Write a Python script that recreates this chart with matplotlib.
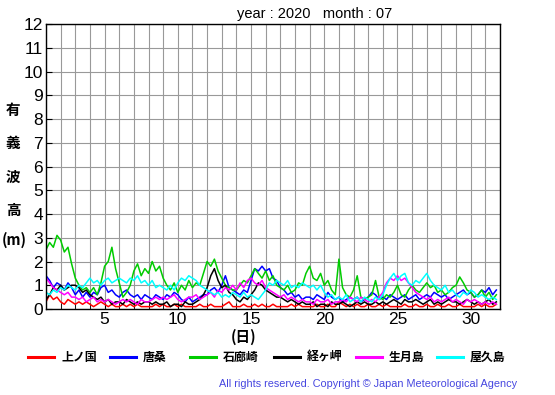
import numpy as np
import matplotlib.pyplot as plt
from matplotlib.lines import Line2D

plt.rcParams['font.family'] = ['Liberation Sans', 'Noto Sans CJK JP', 'DejaVu Sans']

# significant wave height (m), 4 readings per day, July 2020
kaminokuni = [0.3, 0.6, 0.4, 0.5, 0.3, 0.2, 0.4, 0.3, 0.2, 0.3, 0.2, 0.3, 0.2, 0.1, 0.2, 0.3,
              0.2, 0.1, 0.2, 0.1, 0.1, 0.2, 0.1, 0.2, 0.1, 0.2, 0.1, 0.1, 0.1, 0.1, 0.2, 0.1,
              0.2, 0.1, 0.1, 0.2, 0.1, 0.2, 0.1, 0.1, 0.1, 0.1, 0.2, 0.1, 0.1, 0.2, 0.1, 0.1,
              0.1, 0.2, 0.3, 0.1, 0.1, 0.1, 0.2, 0.1, 0.1, 0.2, 0.1, 0.2, 0.1, 0.1, 0.2, 0.1,
              0.1, 0.1, 0.1, 0.2, 0.1, 0.2, 0.1, 0.1, 0.1, 0.1, 0.2, 0.1, 0.1, 0.2, 0.1, 0.1,
              0.3, 0.2, 0.1, 0.2, 0.1, 0.2, 0.1, 0.1, 0.2, 0.1, 0.1, 0.2, 0.1, 0.2, 0.1, 0.1,
              0.1, 0.1, 0.2, 0.1, 0.1, 0.2, 0.1, 0.1, 0.2, 0.1, 0.1, 0.2, 0.1, 0.1, 0.2, 0.1,
              0.1, 0.2, 0.1, 0.1, 0.1, 0.1, 0.2, 0.1, 0.2, 0.1, 0.1, 0.2]
karakuwa = [1.4, 1.2, 0.9, 1.1, 1.0, 0.8, 1.1, 0.9, 0.6, 0.8, 0.5, 0.7, 0.5, 0.7, 0.6, 0.9,
            1.0, 0.7, 0.8, 0.6, 0.5, 0.7, 0.8, 0.6, 0.5, 0.6, 0.4, 0.6, 0.5, 0.4, 0.6, 0.5,
            0.4, 0.6, 0.5, 0.7, 0.6, 0.4, 0.3, 0.5, 0.3, 0.4, 0.5, 0.6, 0.6, 0.8, 0.9, 0.7,
            1.0, 1.4, 0.9, 0.8, 0.7, 0.6, 0.8, 0.7, 1.2, 1.7, 1.6, 1.8, 1.6, 1.7, 1.3, 1.2,
            0.9, 0.8, 0.6, 0.7, 0.5, 0.6, 0.4, 0.5, 0.5, 0.4, 0.6, 0.5, 0.4, 0.7, 0.5, 0.4,
            0.5, 0.3, 0.4, 0.5, 0.4, 0.5, 0.3, 0.4, 0.5, 0.7, 0.6, 0.4, 0.5, 0.4, 0.6, 0.5,
            0.4, 0.5, 0.6, 0.4, 0.5, 0.6, 0.4, 0.5, 0.6, 0.5, 0.7, 0.6, 0.5, 0.6, 0.4, 0.5,
            0.6, 0.7, 0.8, 0.6, 0.7, 0.5, 0.6, 0.8, 0.7, 0.9, 0.6, 0.8]
irozaki = [2.5, 2.8, 2.6, 3.1, 2.9, 2.4, 2.6, 1.9, 1.3, 1.0, 0.8, 0.9, 0.7, 0.9, 0.6, 1.1,
           1.8, 2.0, 2.6, 1.7, 1.1, 0.5, 0.7, 1.0, 1.6, 1.9, 1.4, 1.7, 1.5, 2.0, 1.6, 1.8,
           1.3, 1.0, 0.8, 1.1, 0.7, 1.0, 0.8, 1.2, 0.9, 1.1, 1.0, 1.5, 2.0, 1.8, 2.1, 1.6,
           1.3, 1.0, 0.9, 0.8, 0.8, 1.0, 1.2, 1.1, 1.4, 1.7, 1.5, 1.3, 1.6, 1.2, 1.4, 1.0,
           0.9, 0.8, 1.0, 0.7, 0.8, 1.1, 1.0, 1.5, 1.8, 1.3, 1.2, 1.5, 1.0, 1.2, 0.8, 0.6,
           2.1, 0.9, 0.6, 0.5, 0.8, 1.4, 0.5, 0.4, 0.5, 0.6, 1.2, 0.5, 0.4, 0.6, 0.5, 0.7,
           1.0, 0.6, 0.5, 0.8, 1.0, 0.8, 0.7, 0.9, 1.1, 0.9, 1.0, 0.7, 0.8, 0.6, 0.7, 0.9,
           1.0, 1.35, 1.1, 0.8, 0.7, 0.5, 0.6, 0.8, 0.5, 0.7, 0.4, 0.6]
kyogamisaki = [0.4, 0.6, 0.9, 0.8, 1.0, 0.8, 0.9, 1.0, 1.0, 0.9, 0.7, 0.8, 0.6, 0.5, 0.4, 0.5,
               0.3, 0.4, 0.2, 0.3, 0.3, 0.2, 0.4, 0.3, 0.2, 0.3, 0.2, 0.3, 0.3, 0.2, 0.3, 0.2,
               0.2, 0.3, 0.1, 0.2, 0.2, 0.1, 0.3, 0.2, 0.2, 0.3, 0.4, 0.6, 0.9, 1.4, 1.7, 1.2,
               0.9, 1.0, 0.7, 0.6, 0.4, 0.3, 0.5, 0.4, 0.6, 0.8, 1.1, 1.0, 0.8, 0.7, 0.6, 0.5,
               0.5, 0.4, 0.3, 0.4, 0.3, 0.2, 0.3, 0.2, 0.2, 0.3, 0.1, 0.2, 0.2, 0.1, 0.3, 0.2,
               0.2, 0.3, 0.2, 0.1, 0.2, 0.3, 0.2, 0.3, 0.2, 0.2, 0.3, 0.2, 0.3, 0.2, 0.3, 0.4,
               0.3, 0.2, 0.4, 0.3, 0.3, 0.4, 0.3, 0.2, 0.3, 0.4, 0.2, 0.3, 0.2, 0.3, 0.4, 0.3,
               0.3, 0.2, 0.3, 0.4, 0.3, 0.2, 0.3, 0.2, 0.3, 0.4, 0.2, 0.3]
ikitsukishima = [1.3, 1.1, 0.9, 0.8, 0.7, 0.6, 0.7, 0.5, 0.5, 0.4, 0.5, 0.3, 0.4, 0.5, 0.3, 0.4,
                 0.3, 0.4, 0.3, 0.2, 0.3, 0.4, 0.3, 0.4, 0.3, 0.2, 0.4, 0.3, 0.3, 0.4, 0.5, 0.4,
                 0.5, 0.4, 0.5, 0.6, 0.4, 0.3, 0.4, 0.5, 0.5, 0.6, 0.4, 0.5, 0.6, 0.7, 0.5, 0.8,
                 0.7, 0.9, 0.8, 1.0, 0.8, 1.1, 0.9, 1.2, 1.3, 1.1, 1.0, 1.2, 0.9, 0.8, 0.7, 0.6,
                 0.5, 0.6, 0.4, 0.5, 0.4, 0.3, 0.4, 0.3, 0.3, 0.2, 0.4, 0.3, 0.3, 0.4, 0.2, 0.3,
                 0.3, 0.4, 0.3, 0.5, 0.4, 0.3, 0.5, 0.4, 0.3, 0.4, 0.3, 0.5, 0.7, 1.1, 1.3, 1.2,
                 1.4, 1.2, 1.3, 1.1, 0.9, 0.7, 0.6, 0.5, 0.4, 0.5, 0.3, 0.4, 0.3, 0.4, 0.5, 0.3,
                 0.4, 0.3, 0.2, 0.4, 0.3, 0.4, 0.3, 0.2, 0.3, 0.2, 0.3, 0.2]
yakushima = [0.7, 0.6, 0.8, 0.7, 0.9, 0.8, 1.0, 0.9, 0.8, 1.0, 0.9, 1.1, 1.3, 1.1, 1.2, 1.0,
             1.2, 1.3, 1.1, 1.2, 1.3, 1.2, 1.1, 1.3, 1.2, 1.4, 1.1, 1.2, 1.0, 1.2, 0.9, 1.0,
             0.9, 0.8, 1.0, 0.8, 1.1, 1.3, 1.2, 1.4, 1.3, 1.2, 1.0, 0.9, 0.8, 0.7, 0.6, 0.7,
             0.5, 0.6, 0.5, 0.7, 0.6, 0.5, 0.7, 0.5, 0.6, 0.5, 0.4, 0.6, 0.8, 1.1, 1.0, 1.2,
             1.1, 1.0, 1.2, 0.9, 1.0, 0.9, 1.1, 1.0, 0.9, 1.0, 0.8, 1.0, 0.7, 0.5, 0.6, 0.4,
             0.5, 0.4, 0.6, 0.3, 0.4, 0.5, 0.3, 0.5, 0.4, 0.3, 0.5, 0.4, 0.6, 1.0, 1.3, 1.5,
             1.2, 1.4, 1.5, 1.1, 1.0, 1.2, 1.1, 1.3, 1.5, 1.2, 1.0, 0.9, 0.8, 1.0, 0.7, 0.8,
             0.6, 0.5, 0.7, 0.6, 0.8, 0.7, 0.5, 0.6, 0.5, 0.4, 0.5, 0.4]

stations = ['上ノ国', '唐桑', '石廊崎', '経ヶ岬', '生月島', '屋久島']
series = [kaminokuni, karakuwa, irozaki, kyogamisaki, ikitsukishima, yakushima]
colors = ['#ff0000', '#0000ff', '#00cc00', '#000000', '#ff00ff', '#00ffff']

days = 1 + np.arange(len(irozaki)) / 4

fig = plt.figure(figsize=(5.55, 3.95), dpi=100)
ax = fig.add_axes([46 / 555, 86 / 395, 454 / 555, 285 / 395])

for vals, c in zip(series, colors):
    ax.plot(days, vals, color=c, lw=1.1)

ax.set_xlim(1, 32)
ax.set_ylim(0, 12)
ax.set_xticks(range(5, 31, 5))
ax.set_xticks(range(1, 33), minor=True)
ax.set_yticks(range(0, 13))
ax.grid(True, which='both', color='#999999', lw=0.8)
ax.set_axisbelow(True)
ax.tick_params(which='both', direction='in', length=4, labelsize=12.5, pad=2)
for s in ax.spines.values():
    s.set_linewidth(1.0)

fig.text(315 / 555, 1 - 14 / 395, 'year : 2020   month : 07', ha='center', va='center', fontsize=10.5)

cjk = ['Noto Sans CJK JP', 'DejaVu Sans']
for ch, y in zip(['有', '義', '波', '高'], [110, 143, 177, 210]):
    fig.text(13 / 555, 1 - y / 395, ch, ha='center', va='center', fontsize=10.5,
             family=cjk, fontweight='bold')
fig.text(2 / 555, 1 - 240 / 395, '(m)', ha='left', va='center', fontsize=10.5,
         family=cjk, fontweight='bold')
fig.text(244 / 555, 1 - 337 / 395, '(日)', ha='center', va='center', fontsize=10.5,
         family=cjk, fontweight='bold')

# legend row under the axes
line_x = [28, 110, 190, 274, 356, 437]
for name, c, x0 in zip(stations, colors, line_x):
    fig.add_artist(Line2D([x0 / 555, (x0 + 26) / 555], [1 - 357 / 395] * 2, color=c, lw=2.2))
    fig.text((x0 + 33) / 555, 1 - 357 / 395, name, ha='left', va='center', fontsize=8.6,
             family=cjk, fontweight='bold')

fig.text(517 / 555, 1 - 384 / 395, 'All rights reserved. Copyright \u00a9 Japan Meteorological Agency',
         ha='right', va='center', fontsize=7.8, color='#4646e0')

fig.savefig('out.png', dpi=100)
